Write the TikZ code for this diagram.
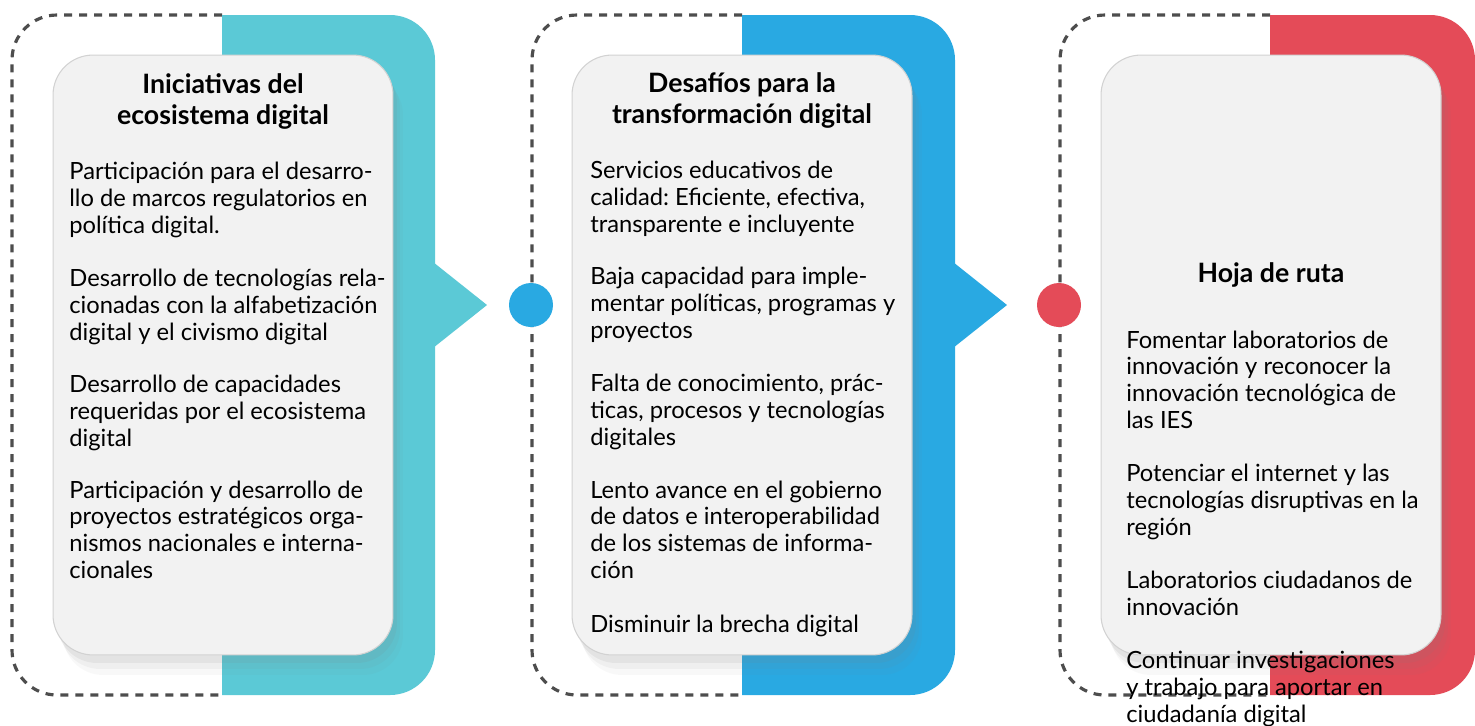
\documentclass[tikz,border=0pt]{standalone}
\usepackage{fontspec}
\setmainfont{Lato}
\frenchspacing
\usetikzlibrary{shadows}
\definecolor{tealc}{HTML}{5BC9D6}
\definecolor{bluec}{HTML}{29A9E2}
\definecolor{redc}{HTML}{E44B58}
\definecolor{cardc}{HTML}{F2F2F2}
\definecolor{dashc}{HTML}{4D4D4D}

\begin{document}
\begin{tikzpicture}[x=0.02cm, y=-0.02cm,
	dashline/.style={dashc, line width=1.8pt, dash pattern=on 0.16cm off 0.14cm, rounded corners=0.9cm},
	card/.style={draw=gray!35, line width=0.6pt, fill=cardc, rounded corners=0.8cm,
		minimum width=6.8cm, minimum height=12cm,
		drop shadow={shadow xshift=0.2cm, shadow yshift=-0.4cm, opacity=0.05},
		drop shadow={shadow xshift=0.14cm, shadow yshift=-0.28cm, opacity=0.07},
		drop shadow={shadow xshift=0.08cm, shadow yshift=-0.16cm, opacity=0.1}},
	title/.style={font=\fontsize{15.2}{17.6}\selectfont\bfseries, align=center, anchor=base, inner sep=0pt},
	body/.style={font=\fontsize{13.5}{15.1}\selectfont, align=left, anchor=base west, inner sep=0pt},
	dot/.style={circle, minimum size=0.88cm, inner sep=0pt}]
	
	% Lienzo: 1475 x 725 (en pixeles de la referencia)
	\fill[white] (0,0) rectangle (1475,725);
	\useasboundingbox (0,0) rectangle (1475,725);
	\def\Radio{0.9cm} % radio de las barras de color
	
	% 1. Contornos discontinuos de cada bloque
	\draw[dashline] (222,15) -- (12,15) -- (12,695) -- (222,695);
	\draw[dashline] (742,15) -- (532,15) -- (532,695) -- (742,695);
	\draw[dashline] (1270,15) -- (1060,15) -- (1060,695) -- (1270,695);
	
	% 2. Barras de color (solo esquinas derechas redondeadas)
	\begin{scope}
		\clip (222,0) rectangle (1475,725);
		\fill[tealc, rounded corners=\Radio] (150,15) rectangle (435,695);
	\end{scope}
	\begin{scope}
		\clip (742,0) rectangle (1475,725);
		\fill[bluec, rounded corners=\Radio] (670,15) rectangle (955,695);
	\end{scope}
	\begin{scope}
		\clip (1270,0) rectangle (1475,725);
		\fill[redc, rounded corners=\Radio] (1200,15) rectangle (1475,695);
	\end{scope}
	
	% Puntas de flecha triangulares
	\fill[tealc] (433,262) -- (487,305) -- (433,348) -- cycle;
	\fill[bluec] (953,262) -- (1007,305) -- (953,348) -- cycle;
	
	% 3. Tarjetas blancas
	\node[card] (card1) at (223,355) {};
	\node[card] (card2) at (742,355) {};
	\node[card] (card3) at (1271,355) {};
	
	% Puntos de union
	\node[dot, fill=bluec] (dot1) at (531,305) {};
	\node[dot, fill=redc] (dot2) at (1059,305) {};
	
	% 4. Textos (el ancla base es la ultima linea de cada parrafo)
	% Bloque 1
	\node[title] (tit1) at (223,124) {Iniciativas del\\ecosistema digital};
	\node[body] (p11) at (69,233) {Participación para el desarro-\\llo de marcos regulatorios en\\política digital.};
	\node[body] (p12) at (69,340) {Desarrollo de tecnologías rela-\\cionadas con la alfabetización\\digital y el civismo digital};
	\node[body] (p13) at (69,446) {Desarrollo de capacidades\\requeridas por el ecosistema\\digital};
	\node[body] (p14) at (69,578) {Participación y desarrollo de\\proyectos estratégicos orga-\\nismos nacionales e interna-\\cionales};
	
	% Bloque 2
	\node[title] (tit2) at (742,123) {Desafíos para la\\transformación digital};
	\node[body] (p21) at (590,232) {Servicios educativos de\\calidad: Eficiente, efectiva,\\transparente e incluyente};
	\node[body] (p22) at (590,338) {Baja capacidad para imple-\\mentar políticas, programas y\\proyectos};
	\node[body] (p23) at (590,445) {Falta de conocimiento, prác-\\ticas, procesos y tecnologías\\digitales};
	\node[body] (p24) at (590,578) {Lento avance en el gobierno\\de datos e interoperabilidad\\de los sistemas de informa-\\ción};
	\node[body] (p25) at (590,632) {Disminuir la brecha digital};
	
	% Bloque 3
	\node[title] (tit3) at (1271,282) {Hoja de ruta};
	\node[body] (p31) at (1126,428) {Fomentar laboratorios de\\innovación y reconocer la\\innovación tecnológica de\\las IES};
	\node[body] (p32) at (1126,535) {Potenciar el internet y las\\tecnologías disruptivas en la\\región};
	\node[body] (p33) at (1126,615) {Laboratorios ciudadanos de\\innovación};
	\node[body] (p34) at (1126,722) {Continuar investigaciones\\y trabajo para aportar en\\ciudadanía digital};
	
\end{tikzpicture}
\end{document}
